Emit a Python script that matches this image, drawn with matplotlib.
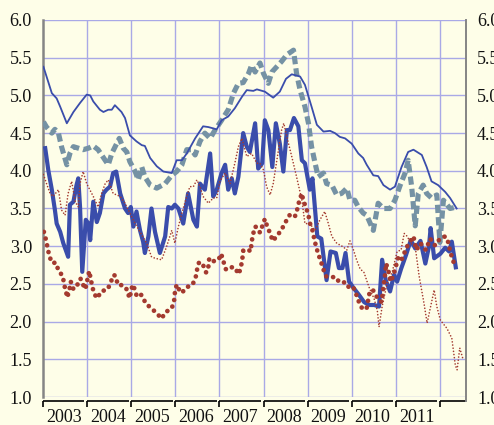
import matplotlib
matplotlib.use("Agg")
import matplotlib.pyplot as plt
import matplotlib.transforms as mtransforms
import numpy as np

# ---------------- data (decimal years, percent) ----------------
thin_blue_t = [2003.01, 2003.20, 2003.31, 2003.39, 2003.54, 2003.69, 2003.84, 2003.99, 2004.07, 2004.14,
               2004.29, 2004.37, 2004.48, 2004.56, 2004.63, 2004.78, 2004.86, 2004.97, 2005.12, 2005.24,
               2005.31, 2005.43, 2005.58, 2005.73, 2005.92, 2006.03, 2006.15, 2006.26, 2006.45, 2006.63,
               2006.75, 2006.94, 2007.05, 2007.20, 2007.35, 2007.51, 2007.62, 2007.77, 2007.85, 2008.03,
               2008.22, 2008.37, 2008.51, 2008.64, 2008.83, 2008.94, 2009.09, 2009.21, 2009.36, 2009.51,
               2009.62, 2009.73, 2009.85, 2010.00, 2010.15, 2010.26, 2010.34, 2010.49, 2010.60, 2010.72,
               2010.87, 2010.98, 2011.13, 2011.28, 2011.40, 2011.59, 2011.70, 2011.81, 2011.96, 2012.12,
               2012.23, 2012.38]
thin_blue_v = [5.38, 5.03, 4.96, 4.85, 4.63, 4.78, 4.90, 5.01, 5.00, 4.92,
               4.81, 4.78, 4.81, 4.81, 4.87, 4.78, 4.70, 4.47, 4.39, 4.34,
               4.33, 4.17, 4.06, 3.99, 3.97, 4.14, 4.14, 4.23, 4.43, 4.59,
               4.58, 4.55, 4.67, 4.72, 4.83, 4.98, 5.07, 5.06, 5.08, 5.05,
               4.97, 5.05, 5.22, 5.28, 5.25, 5.14, 4.85, 4.61, 4.52, 4.53,
               4.50, 4.45, 4.43, 4.36, 4.23, 4.17, 4.08, 3.94, 3.93, 3.81,
               3.75, 3.79, 4.05, 4.25, 4.28, 4.21, 4.05, 3.86, 3.81, 3.72,
               3.64, 3.50]

dashed_t = [2003.01, 2003.08, 2003.20, 2003.27, 2003.35, 2003.42, 2003.54, 2003.61, 2003.69, 2003.80,
            2003.91, 2004.03, 2004.14, 2004.25, 2004.41, 2004.48, 2004.56, 2004.67, 2004.73, 2004.82,
            2004.90, 2004.97, 2005.09, 2005.16, 2005.24, 2005.31, 2005.43, 2005.58, 2005.77, 2005.92,
            2006.03, 2006.15, 2006.26, 2006.37, 2006.45, 2006.56, 2006.67, 2006.79, 2006.90, 2007.05,
            2007.20, 2007.32, 2007.43, 2007.54, 2007.66, 2007.73, 2007.81, 2007.92, 2008.00, 2008.11,
            2008.19, 2008.30, 2008.41, 2008.53, 2008.68, 2008.75, 2008.83, 2008.94, 2009.02, 2009.09,
            2009.17, 2009.24, 2009.36, 2009.43, 2009.55, 2009.66, 2009.77, 2009.89, 2009.96, 2010.07,
            2010.15, 2010.26, 2010.34, 2010.49, 2010.60, 2010.72, 2010.87, 2010.98, 2011.10, 2011.21,
            2011.28, 2011.36, 2011.44, 2011.51, 2011.62, 2011.70, 2011.81, 2011.93, 2012.00, 2012.08,
            2012.23, 2012.38]
dashed_v = [4.65, 4.58, 4.50, 4.55, 4.50, 4.32, 4.08, 4.23, 4.32, 4.30,
            4.28, 4.30, 4.33, 4.28, 4.14, 4.08, 4.23, 4.36, 4.43, 4.30,
            4.25, 4.12, 3.99, 3.88, 4.05, 3.92, 3.81, 3.77, 3.83, 3.94,
            3.99, 4.08, 4.28, 4.28, 4.21, 4.39, 4.50, 4.43, 4.54, 4.67,
            4.81, 5.03, 5.16, 5.17, 5.29, 5.40, 5.31, 5.43, 5.29, 5.16,
            5.31, 5.38, 5.45, 5.54, 5.60, 5.29, 5.07, 4.85, 4.63, 4.32,
            4.10, 3.92, 3.97, 3.83, 3.81, 3.68, 3.70, 3.77, 3.61, 3.61,
            3.52, 3.44, 3.41, 3.21, 3.57, 3.50, 3.50, 3.61, 3.81, 3.97,
            4.14, 3.79, 3.27, 3.70, 3.81, 3.70, 3.64, 3.68, 3.05, 3.61,
            3.50, 3.52]

thick_blue_t = [2003.05, 2003.12, 2003.20, 2003.27, 2003.31, 2003.39, 2003.46, 2003.54, 2003.57, 2003.61,
                2003.69, 2003.76, 2003.80, 2003.84, 2003.89, 2003.97, 2004.03, 2004.07, 2004.14, 2004.22,
                2004.29, 2004.37, 2004.44, 2004.52, 2004.59, 2004.66, 2004.75, 2004.86, 2004.93, 2004.99,
                2005.05, 2005.12, 2005.20, 2005.27, 2005.31, 2005.39, 2005.46, 2005.54, 2005.65, 2005.77,
                2005.84, 2005.92, 2005.99, 2006.07, 2006.18, 2006.29, 2006.41, 2006.49, 2006.56, 2006.67,
                2006.79, 2006.86, 2006.94, 2007.05, 2007.13, 2007.20, 2007.28, 2007.35, 2007.43, 2007.54,
                2007.62, 2007.69, 2007.81, 2007.88, 2007.97, 2008.03, 2008.11, 2008.20, 2008.28, 2008.37,
                2008.45, 2008.53, 2008.60, 2008.69, 2008.79, 2008.87, 2008.94, 2009.05, 2009.11, 2009.17,
                2009.22, 2009.31, 2009.43, 2009.52, 2009.64, 2009.71, 2009.79, 2009.86, 2009.94, 2010.05,
                2010.17, 2010.28, 2010.39, 2010.51, 2010.62, 2010.69, 2010.77, 2010.87, 2010.96, 2011.03,
                2011.12, 2011.23, 2011.34, 2011.44, 2011.56, 2011.67, 2011.75, 2011.79, 2011.87, 2012.01,
                2012.12, 2012.21, 2012.27, 2012.36]
thick_blue_v = [4.30, 4.01, 3.75, 3.48, 3.30, 3.19, 3.04, 2.91, 2.86, 3.55,
                3.59, 3.81, 3.90, 3.52, 2.66, 3.35, 3.30, 3.08, 3.59, 3.32,
                3.44, 3.70, 3.75, 3.79, 3.97, 3.99, 3.70, 3.50, 3.44, 3.52,
                3.26, 3.46, 3.21, 3.06, 2.91, 3.13, 3.50, 3.19, 2.91, 3.13,
                3.52, 3.50, 3.55, 3.50, 3.30, 3.70, 3.35, 3.26, 3.83, 3.75,
                4.23, 3.66, 3.75, 3.97, 4.08, 3.75, 3.90, 3.70, 3.92, 4.50,
                4.32, 4.25, 4.63, 4.03, 4.10, 4.67, 4.54, 4.05, 4.63, 4.36,
                3.99, 4.54, 4.54, 4.70, 4.59, 4.14, 4.10, 3.75, 3.90, 3.48,
                3.13, 3.10, 2.55, 2.93, 2.91, 2.71, 2.71, 2.91, 2.53, 2.44,
                2.35, 2.26, 2.22, 2.22, 2.20, 2.82, 2.55, 2.40, 2.62, 2.53,
                2.70, 2.88, 3.08, 2.97, 3.07, 2.77, 2.99, 3.24, 2.84, 2.90,
                2.98, 2.93, 3.06, 2.72]

thin_red_t = [2003.01, 2003.08, 2003.16, 2003.23, 2003.35, 2003.42, 2003.50, 2003.57, 2003.65, 2003.73,
              2003.80, 2003.84, 2003.91, 2003.99, 2004.14, 2004.25, 2004.33, 2004.41, 2004.48, 2004.59,
              2004.75, 2004.86, 2004.97, 2005.09, 2005.20, 2005.35, 2005.46, 2005.54, 2005.69, 2005.80,
              2005.92, 2005.99, 2006.07, 2006.15, 2006.26, 2006.33, 2006.41, 2006.49, 2006.56, 2006.63,
              2006.75, 2006.86, 2006.94, 2007.01, 2007.13, 2007.24, 2007.35, 2007.43, 2007.51, 2007.62,
              2007.73, 2007.85, 2007.92, 2008.00, 2008.07, 2008.15, 2008.22, 2008.34, 2008.41, 2008.46,
              2008.53, 2008.64, 2008.75, 2008.87, 2008.94, 2009.05, 2009.17, 2009.28, 2009.39, 2009.47,
              2009.55, 2009.66, 2009.81, 2009.89, 2009.96, 2010.04, 2010.11, 2010.19, 2010.28, 2010.39,
              2010.51, 2010.58, 2010.62, 2010.69, 2010.80, 2010.92, 2011.03, 2011.12, 2011.19, 2011.26,
              2011.34, 2011.44, 2011.53, 2011.64, 2011.71, 2011.79, 2011.87, 2011.93, 2012.01, 2012.16,
              2012.27, 2012.35, 2012.39, 2012.45, 2012.52]
thin_red_v = [3.95, 3.83, 3.70, 3.66, 3.75, 3.48, 3.41, 3.70, 3.86, 3.59,
              3.52, 3.83, 3.99, 3.83, 3.66, 3.52, 3.70, 3.83, 3.88, 3.70,
              3.66, 3.57, 3.44, 3.30, 3.19, 3.04, 2.86, 2.84, 2.82, 2.99,
              3.21, 3.04, 3.26, 3.44, 3.66, 3.79, 3.79, 3.88, 3.79, 3.66,
              3.57, 3.64, 3.64, 3.86, 3.97, 3.83, 4.10, 4.32, 4.43, 4.19,
              4.23, 4.10, 4.10, 4.01, 3.79, 3.68, 3.83, 4.28, 4.54, 4.63,
              4.45, 4.19, 3.92, 3.61, 3.30, 3.30, 3.21, 3.35, 3.46, 3.30,
              3.13, 3.04, 2.99, 2.95, 3.07, 2.95, 2.82, 2.70, 2.65, 2.46,
              2.30, 2.15, 1.93, 2.20, 2.50, 2.66, 2.93, 2.95, 3.17, 3.13,
              3.04, 2.99, 2.60, 2.24, 1.98, 2.20, 2.42, 2.20, 2.02, 1.91,
              1.78, 1.42, 1.36, 1.65, 1.51]

heavy_red_t = [2003.02, 2003.07, 2003.10, 2003.14, 2003.20, 2003.29, 2003.35, 2003.45, 2003.48, 2003.52,
               2003.55, 2003.60, 2003.63, 2003.69, 2003.78, 2003.85, 2003.89, 2003.95, 2003.99, 2004.01,
               2004.05, 2004.08, 2004.12, 2004.16, 2004.23, 2004.32, 2004.47, 2004.54, 2004.61, 2004.66,
               2004.69, 2004.82, 2004.91, 2004.96, 2004.99, 2005.03, 2005.06, 2005.12, 2005.18, 2005.25,
               2005.33, 2005.45, 2005.58, 2005.69, 2005.77, 2005.92, 2005.97, 2005.99, 2006.03, 2006.09,
               2006.15, 2006.24, 2006.39, 2006.46, 2006.49, 2006.54, 2006.63, 2006.70, 2006.75, 2006.77,
               2006.86, 2006.98, 2007.04, 2007.09, 2007.15, 2007.24, 2007.34, 2007.44, 2007.49, 2007.52,
               2007.54, 2007.64, 2007.71, 2007.73, 2007.76, 2007.81, 2007.85, 2007.92, 2007.97, 2008.03,
               2008.08, 2008.15, 2008.21, 2008.31, 2008.41, 2008.49, 2008.59, 2008.68, 2008.73, 2008.77,
               2008.81, 2008.87, 2008.90, 2008.96, 2009.02, 2009.05, 2009.11, 2009.15, 2009.19, 2009.24,
               2009.30, 2009.36, 2009.42, 2009.52, 2009.64, 2009.72, 2009.87, 2009.95, 2010.04, 2010.11,
               2010.17, 2010.25, 2010.34, 2010.41, 2010.48, 2010.55, 2010.60, 2010.68, 2010.72, 2010.76,
               2010.78, 2010.83, 2010.88, 2010.94, 2011.00, 2011.06, 2011.13, 2011.25, 2011.32, 2011.40,
               2011.47, 2011.56, 2011.68, 2011.78, 2011.89, 2012.00, 2012.12, 2012.20, 2012.23, 2012.29,
               2012.34]
heavy_red_v = [3.19, 3.08, 2.99, 2.88, 2.78, 2.78, 2.68, 2.60, 2.49, 2.40,
               2.32, 2.43, 2.53, 2.43, 2.49, 2.57, 2.52, 2.43, 2.49, 2.57,
               2.67, 2.57, 2.46, 2.37, 2.31, 2.40, 2.43, 2.53, 2.62, 2.59,
               2.49, 2.48, 2.42, 2.31, 2.38, 2.49, 2.46, 2.35, 2.38, 2.34,
               2.24, 2.18, 2.11, 2.04, 2.12, 2.18, 2.26, 2.38, 2.49, 2.42,
               2.38, 2.45, 2.49, 2.58, 2.68, 2.79, 2.75, 2.65, 2.73, 2.84,
               2.80, 2.82, 2.90, 2.80, 2.69, 2.72, 2.72, 2.63, 2.73, 2.83,
               2.94, 2.96, 2.93, 3.05, 3.15, 3.26, 3.25, 3.18, 3.26, 3.36,
               3.27, 3.17, 3.07, 3.14, 3.22, 3.31, 3.41, 3.38, 3.41, 3.50,
               3.60, 3.70, 3.61, 3.52, 3.41, 3.31, 3.21, 3.10, 3.00, 2.90,
               2.80, 2.69, 2.60, 2.59, 2.59, 2.52, 2.52, 2.44, 2.45, 2.35,
               2.25, 2.16, 2.18, 2.40, 2.42, 2.35, 2.29, 2.26, 2.46, 2.64,
               2.77, 2.68, 2.53, 2.60, 2.73, 2.86, 2.82, 2.99, 3.06, 3.13,
               2.95, 3.04, 2.95, 3.10, 3.01, 3.10, 3.13, 3.04, 2.93, 2.83,
               2.73]

years = list(range(2003, 2013))
year_labels = [str(y) for y in range(2003, 2012)]
y_ticks = [1.0, 1.5, 2.0, 2.5, 3.0, 3.5, 4.0, 4.5, 5.0, 5.5, 6.0]

# ---------------- styling ----------------
bg = '#fefee8'
grid_c = '#a9a9e6'
blue = '#3a4dab'
slate = '#7592a4'
red = '#a43a2f'
serif = ['Liberation Serif', 'DejaVu Serif']

W, H = 494, 425
fig = plt.figure(figsize=(W / 100, H / 100), dpi=100)
fig.patch.set_facecolor(bg)
L, R, T, B = 43, 466, 20, 397
ax = fig.add_axes([L / W, 1 - B / H, (R - L) / W, (B - T) / H])
ax.set_facecolor(bg)
xmax = 2003 + (R - L) / 44.1
ax.set_xlim(2003, xmax)
ax.set_ylim(1.0, 6.0)

ax.set_xticks(years[1:])
ax.tick_params(axis='x', length=0, labelbottom=False)
ax.set_yticks(y_ticks)
ax.set_yticklabels([f'{v:.1f}' for v in y_ticks], fontfamily=serif, fontsize=13, color='#111111')
ax.tick_params(axis='y', length=0, left=False, right=False, labelleft=True, labelright=True, pad=8)
ax.grid(True, color=grid_c, lw=1.0)
ax.set_axisbelow(True)

for s in ['top', 'bottom', 'right']:
    ax.spines[s].set_visible(False)
ax.spines['left'].set_color('#858585')
ax.spines['left'].set_linewidth(1.8)

# series
ax.plot(dashed_t, dashed_v, color=slate, lw=3.7, linestyle=(0, (1.6, 0.8)),
        dash_capstyle='butt', solid_joinstyle='miter', zorder=3)
ax.plot(thick_blue_t, thick_blue_v, color=blue, lw=3.0, solid_joinstyle='round', zorder=4)
ax.plot(thin_blue_t, thin_blue_v, color=blue, lw=1.3, zorder=5)
ax.plot(thin_red_t, thin_red_v, color=red, lw=1.2, linestyle=(0, (0.01, 1.9)),
        dash_capstyle='round', zorder=6)
ax.plot(heavy_red_t, heavy_red_v, color=red, lw=3.4, linestyle=(0, (0.01, 1.45)),
        dash_capstyle='round', zorder=7)

# bottom bracket axis and right border
trans = mtransforms.blended_transform_factory(ax.transData, ax.transAxes)
ph = B - T
y0 = -4 / ph
y1 = -10 / ph
gap = 2.7 / 44.1
for yr in years:
    x_end = min(yr + 1 - gap, xmax)
    ax.plot([yr, x_end], [y0, y0], color='black', lw=1.2, transform=trans, clip_on=False,
            solid_capstyle='butt')
    ax.plot([yr, yr], [y0, y1], color='black', lw=1.2, transform=trans, clip_on=False,
            solid_capstyle='butt')
ax.plot([xmax, xmax], [y0, 1.0], color='#858585', lw=1.4, transform=trans, clip_on=False)

for yr, lab in zip(years, year_labels):
    ax.text(yr + 0.47, -20 / ph, lab, transform=trans, ha='center', va='center',
            fontfamily=serif, fontsize=13, color='#111111')

fig.savefig('out.png', dpi=100, facecolor=bg)
